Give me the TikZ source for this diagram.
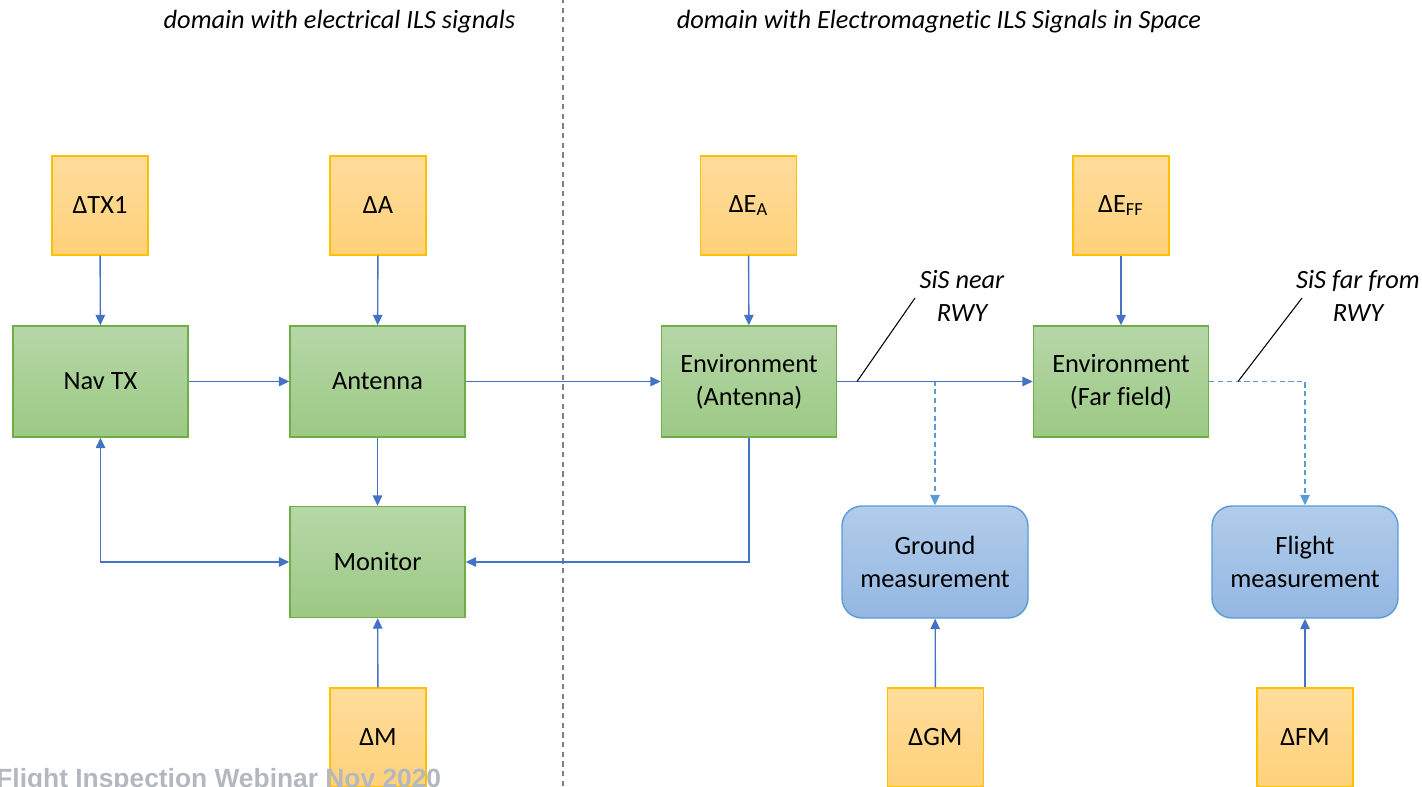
\documentclass[tikz,border=0pt]{standalone}
\usepackage{fontspec}
\setmainfont{Carlito}[Ligatures=NoCommon]
\newfontfamily\markfont{Liberation Sans}
\usepackage{xcolor}
\usepackage{tikz}
\usetikzlibrary{arrows.meta, positioning}

\definecolor{errline}{HTML}{FFC000}
\definecolor{errtop}{HTML}{FFDC9C}
\definecolor{errbot}{HTML}{FFD27A}
\definecolor{blkline}{HTML}{70AD47}
\definecolor{blktop}{HTML}{B6D7A8}
\definecolor{blkbot}{HTML}{9CC984}
\definecolor{msline}{HTML}{5B9BD5}
\definecolor{mstop}{HTML}{B2CCEA}
\definecolor{msbot}{HTML}{93B7E2}
\definecolor{wire}{HTML}{4472C4}
\definecolor{dwire}{HTML}{5B9BD5}
\definecolor{markgray}{HTML}{B3B8BF}

\begin{document}
\begin{tikzpicture}[transform shape,
		txt/.style={font=\fontsize{15}{18.7}\selectfont, align=center},
		errbox/.style={txt, draw=errline, line width=0.8pt, top color=errtop, bottom color=errbot, minimum width=1.92cm, minimum height=1.98cm, inner sep=0pt},
		blkbox/.style={txt, draw=blkline, line width=0.8pt, top color=blktop, bottom color=blkbot, minimum width=3.5cm, minimum height=2.22cm, inner sep=0pt},
		msbox/.style={txt, draw=msline, line width=0.8pt, top color=mstop, bottom color=msbot, rounded corners=0.4cm, minimum width=3.72cm, minimum height=2.24cm, inner sep=0pt},
		conn/.style={draw=wire, line width=0.8pt, -{Triangle[length=2.1mm, width=1.9mm]}},
		dconn/.style={draw=dwire, line width=0.8pt, dash pattern=on 3pt off 2pt, -{Triangle[length=2.1mm, width=1.9mm]}},
		head/.style={font=\fontsize{15}{18.7}\selectfont\itshape, align=center}]
		\useasboundingbox (0, 0) rectangle (28.44, 15.72);
		\clip (0, 0) rectangle (28.44, 15.72);
		% Domain split and headings:
		\draw[gray, line width=0.6pt, dash pattern=on 3pt off 2.5pt] (11.26, 0) -- (11.26, 15.72);
		\node[head] (hdelec) at (6.79, 15.28){domain with electrical ILS signals};
		\node[head] (hdspace) at (18.78, 15.28){domain with Electromagnetic ILS Signals in Space};
		% Error sources:
		\node[errbox] (txerr) at (2.00, 11.61){ΔTX1};
		\node[errbox] (aerr) at (7.56, 11.61){ΔA};
		\node[errbox] (eaerr) at (14.97, 11.61){ΔE\textsubscript{A}};
		\node[errbox] (efferr) at (22.42, 11.61){ΔE\textsubscript{FF}};
		\node[errbox] (merr) at (7.56, 0.97){ΔM};
		\node[errbox] (gmerr) at (18.71, 0.97){ΔGM};
		\node[errbox] (fmerr) at (26.10, 0.97){ΔFM};
		% Blocks:
		\node[blkbox] (navtx) at (2.01, 8.09){Nav TX};
		\node[blkbox] (antenna) at (7.55, 8.09){Antenna};
		\node[blkbox] (envant) at (14.98, 8.09){Environment\\(Antenna)};
		\node[blkbox] (envff) at (22.42, 8.09){Environment\\(Far field)};
		\node[blkbox] (monitor) at (7.55, 4.48){Monitor};
		\node[msbox] (ground) at (18.70, 4.48){Ground\\measurement};
		\node[msbox] (flight) at (26.10, 4.48){Flight\\measurement};
		% Wires:
		\draw[conn] (txerr) -- (navtx);
		\draw[conn] (aerr) -- (antenna);
		\draw[conn] (eaerr) -- (envant);
		\draw[conn] (efferr) -- (envff);
		\draw[dconn] (envant.east) -| (ground.north);
		\draw[dconn] (envff.east) -| (flight.north);
		\draw[conn] (navtx) -- (antenna);
		\draw[conn] (antenna) -- (envant);
		\draw[conn] (envant) -- (envff);
		\draw[conn] (antenna) -- (monitor);
		\draw[conn] (envant.south) |- (monitor.east);
		\draw[conn, {Triangle[length=2.1mm, width=1.9mm]}-{Triangle[length=2.1mm, width=1.9mm]}] (navtx.south) |- (monitor.west);
		\draw[conn] (merr) -- (monitor);
		\draw[conn] (gmerr) -- (ground);
		\draw[conn] (fmerr) -- (flight);
		% Signal in space callouts:
		\node[head] (sisnear) at (19.24, 9.80){SiS near\\RWY};
		\node[head] (sisfar) at (27.16, 9.80){SiS far from\\RWY};
		\coordinate (nearfoot) at (17.14, 8.09);
		\coordinate (neartip) at (18.30, 9.76);
		\coordinate (farfoot) at (24.76, 8.09);
		\coordinate (fartip) at (26.04, 9.76);
		\draw[line width=0.6pt] (nearfoot) -- (neartip);
		\draw[line width=0.6pt] (farfoot) -- (fartip);
		% Footer:
		\node[anchor=base west, inner sep=0pt, text=markgray, font=\markfont\bfseries\fontsize{15}{18}\selectfont] (footer) at (-0.08, -0.03){Flight Inspection Webinar Nov 2020};
	\end{tikzpicture}
\end{document}
